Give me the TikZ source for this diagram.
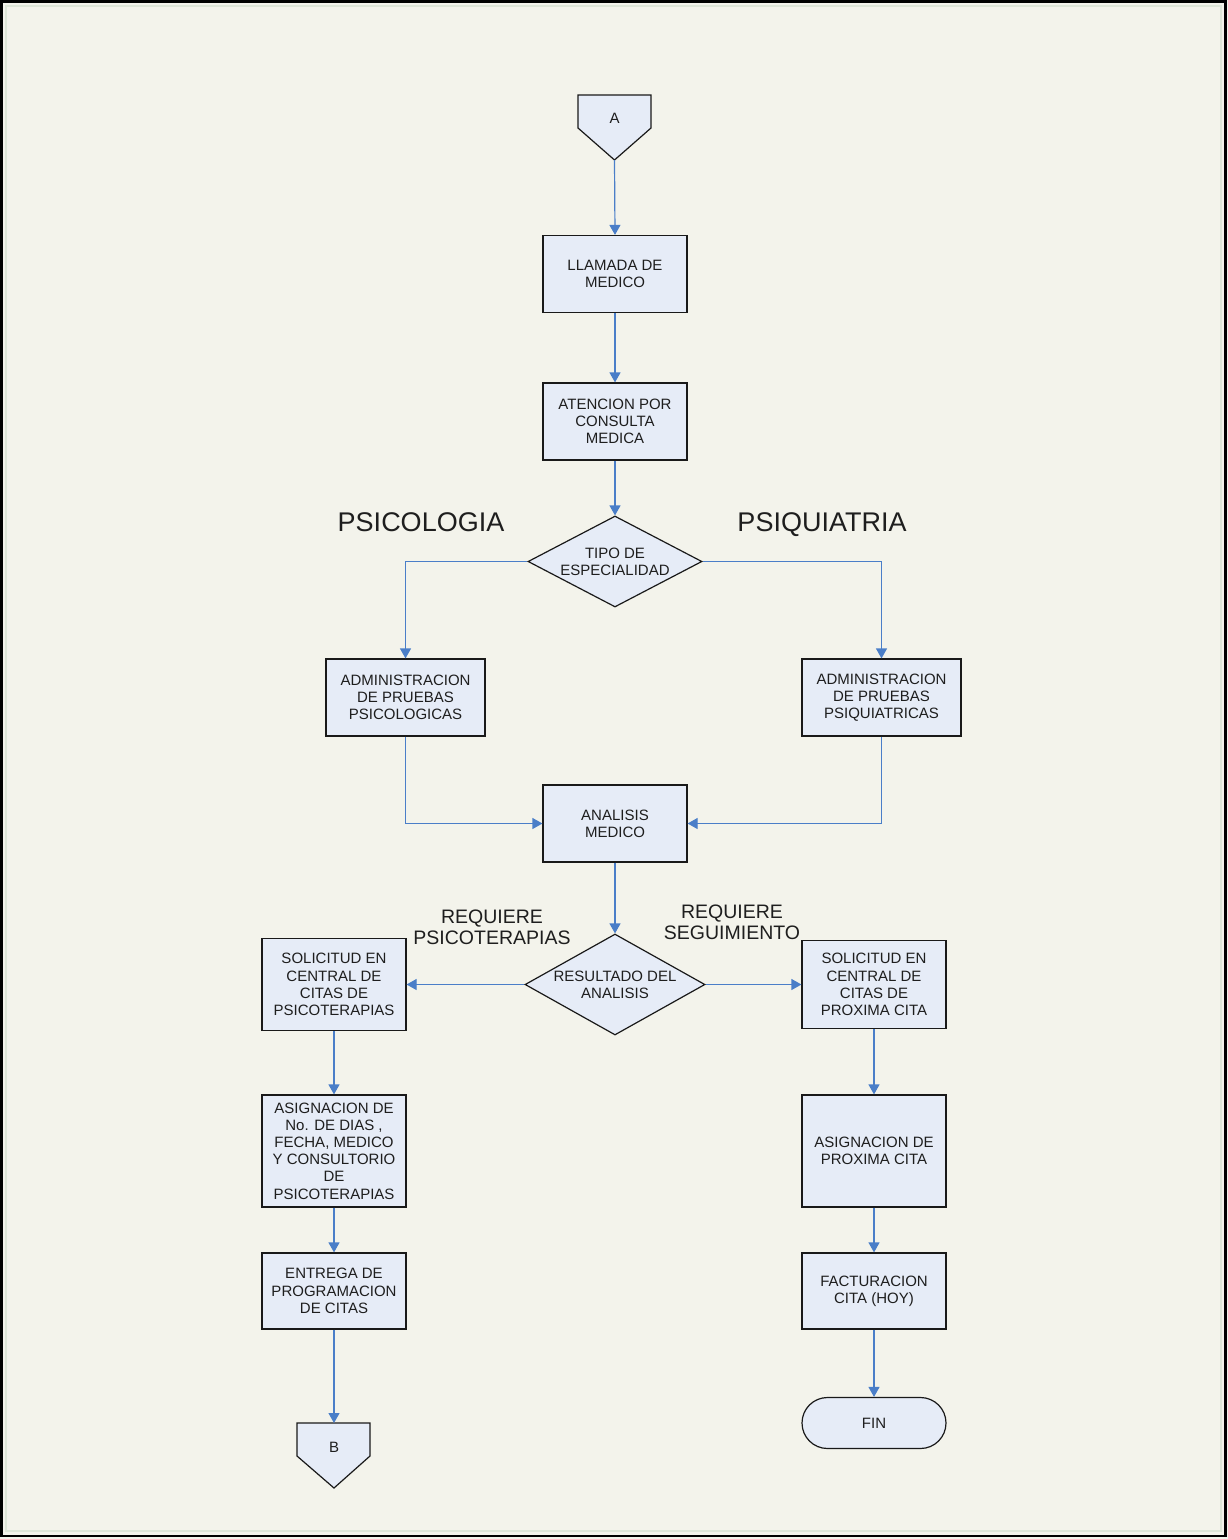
\documentclass[tikz,border=0pt]{standalone}
\usepackage{fontspec}
\setmainfont{Liberation Sans}
\usetikzlibrary{arrows.meta,shapes.geometric,shapes.misc}
\definecolor{bgc}{RGB}{243,243,235}
\definecolor{boxc}{RGB}{230,236,247}
\definecolor{linec}{RGB}{74,126,200}
\definecolor{txtc}{RGB}{30,30,30}
\definecolor{innerc}{RGB}{222,230,216}
\tikzset{
  box/.style={draw=black!90, line width=1.2pt, fill=boxc, align=center,
    font=\fontsize{15}{17.2}\selectfont, text=txtc, inner sep=0pt},
  decision/.style={diamond, draw=black!90, line width=1.2pt, fill=boxc, align=center,
    font=\fontsize{15}{17.2}\selectfont, text=txtc, inner sep=-4pt},
  conn/.style={draw=linec, line width=1.2pt, -{Triangle[length=10pt,width=11pt]}},
  biglabel/.style={font=\fontsize{27}{30}\selectfont, text=txtc, anchor=base},
  midlabel/.style={font=\fontsize{19.5}{21.5}\selectfont, text=txtc, align=center},
  offpage/.style={draw=black!90, line width=1.2pt, fill=boxc}
}
\begin{document}
\begin{tikzpicture}[x=1pt,y=-1pt]
\useasboundingbox (0,0) rectangle (1228,1539);
\fill[bgc] (0,0) rectangle (1228,1539);
\draw[black, line width=2.5pt] (1.5,1.5) rectangle (1225.5,1536);
\draw[innerc, line width=1.2pt] (6,6) rectangle (1221,1531);

% off-page connector A
\draw[offpage] (578,95) -- (651,95) -- (651,128) -- (614.5,160) -- (578,128) -- cycle;
\node[font=\fontsize{15}{17}\selectfont, text=txtc] (A) at (614.5,118) {A};
\coordinate (Atip) at (614.5,160);

\node[box, minimum width=144, minimum height=77] (llamada) at (615,274) {LLAMADA DE\\MEDICO};
\node[box, minimum width=144, minimum height=77] (atencion) at (615,421.5) {ATENCION POR\\CONSULTA\\MEDICA};
\node[decision, aspect=1.91, minimum width=174, minimum height=91] (tipo) at (615,561.5) {TIPO DE\\ESPECIALIDAD};

\node[biglabel] (lpsico) at (421,531) {PSICOLOGIA};
\node[biglabel] (lpsiq) at (822,531) {PSIQUIATRIA};

\node[box, minimum width=159, minimum height=77] (psico) at (405.5,697.5) {ADMINISTRACION\\DE PRUEBAS\\PSICOLOGICAS};
\node[box, minimum width=159, minimum height=77] (psiq) at (881.5,697.5) {ADMINISTRACION\\DE PRUEBAS\\PSIQUIATRICAS};

\node[box, minimum width=144, minimum height=77] (analisis) at (615,823.5) {ANALISIS\\MEDICO};

\node[decision, aspect=1.78, minimum width=180, minimum height=101] (resultado) at (615,984.5) {RESULTADO DEL\\ANALISIS};

\node[midlabel] (lreqpsi) at (492,927.5) {REQUIERE\\PSICOTERAPIAS};
\node[midlabel] (lreqseg) at (732,922.5) {REQUIERE\\SEGUIMIENTO};

\node[box, minimum width=144, minimum height=92] (solpsi) at (334,984.5) {SOLICITUD EN\\CENTRAL DE\\CITAS DE\\PSICOTERAPIAS};
\node[box, minimum width=144, minimum height=88] (solprox) at (874,984.5) {SOLICITUD EN\\CENTRAL DE\\CITAS DE\\PROXIMA CITA};

\node[box, minimum width=144, minimum height=112] (asigpsi) at (334,1151) {ASIGNACION DE\\No. DE DIAS ,\\FECHA, MEDICO\\Y CONSULTORIO\\DE\\PSICOTERAPIAS};
\node[box, minimum width=144, minimum height=112] (asigprox) at (874,1151) {ASIGNACION DE\\PROXIMA CITA};

\node[box, minimum width=144, minimum height=76] (entrega) at (334,1291) {ENTREGA DE\\PROGRAMACION\\DE CITAS};
\node[box, minimum width=144, minimum height=76] (fact) at (874,1291) {FACTURACION\\CITA (HOY)};

\node[box, rounded rectangle, minimum width=144, minimum height=51] (fin) at (874,1423) {FIN};

% off-page connector B
\draw[offpage] (297,1423) -- (370,1423) -- (370,1456) -- (334,1488) -- (297,1456) -- cycle;
\node[font=\fontsize{15}{17}\selectfont, text=txtc] (B) at (334,1447) {B};
\coordinate (Btop) at (334,1423);

% connectors
\draw[conn] (Atip) -- (llamada.north);
\draw[conn] (llamada) -- (atencion);
\draw[conn] (atencion) -- (tipo.north);
\draw[conn] (tipo.west) -| (psico.north);
\draw[conn] (tipo.east) -| (psiq.north);
\draw[conn] (psico.south) |- (analisis.west);
\draw[conn] (psiq.south) |- (analisis.east);
\draw[conn] (analisis) -- (resultado.north);
\draw[conn] (resultado.west) -- (solpsi.east);
\draw[conn] (resultado.east) -- (solprox.west);
\draw[conn] (solpsi) -- (asigpsi);
\draw[conn] (asigpsi) -- (entrega);
\draw[conn] (entrega) -- (Btop);
\draw[conn] (solprox) -- (asigprox);
\draw[conn] (asigprox) -- (fact);
\draw[conn] (fact) -- (fin);
\end{tikzpicture}
\end{document}
